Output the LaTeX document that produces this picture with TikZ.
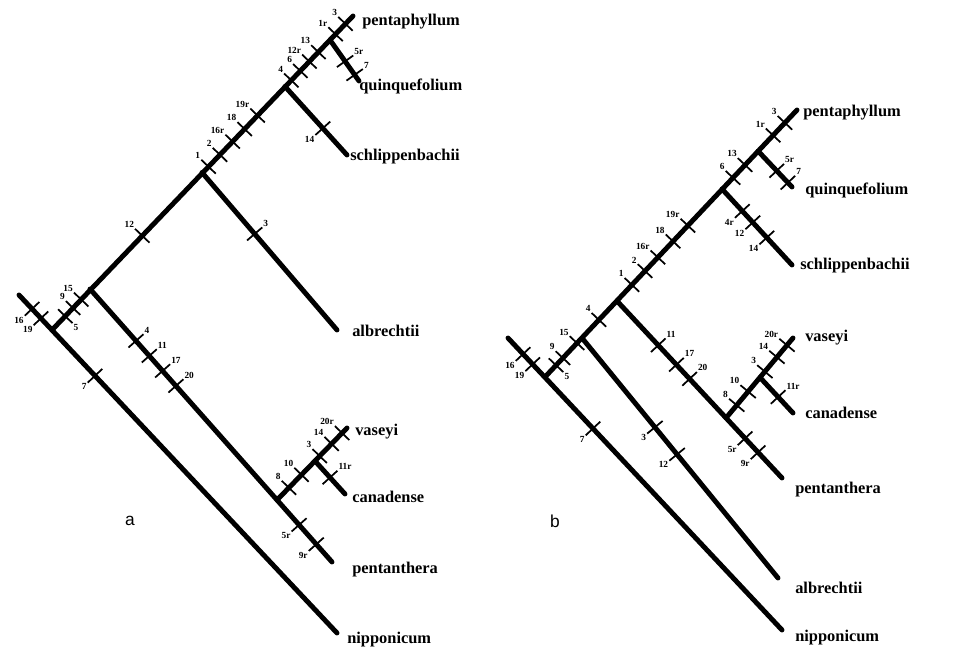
\documentclass[tikz,border=0pt]{standalone}
\usepackage{fontspec}
\setmainfont{Liberation Serif}
\newfontfamily\sansf{Liberation Sans}
\usetikzlibrary{calc}
\newcount\tkn
\newcommand\tk[6]{%
  \global\advance\tkn by 1
  \coordinate (tc\the\tkn) at ($(#1)!#3!(#2)$);
  \draw[tickline] ($(tc\the\tkn)!7.5pt!90:(#2)$) -- ($(tc\the\tkn)!7.5pt!-90:(#2)$);
  \node[tlab, anchor=#6] (tl\the\tkn) at ($(tc\the\tkn)!8pt!#5:(#2)$) {#4};
}
\begin{document}
\begin{tikzpicture}[x=0.75pt,y=-0.75pt,
  brl/.style={line width=3.7pt, line cap=round},
  tickline/.style={line width=1.3pt},
  tlab/.style={font=\fontsize{7}{7}\selectfont\bfseries, inner sep=0.3pt},
  leaf/.style={font=\fontsize{12.3}{13}\selectfont\bfseries, anchor=west, inner sep=0pt},
  panel/.style={font=\sansf\fontsize{13}{14}\selectfont, inner sep=0pt}]
\useasboundingbox (0,0) rectangle (964,655);

% ---------------- tree a ----------------
\coordinate (a0) at (19,295);
\coordinate (anip) at (337,633);
\coordinate (ar) at (52,330);
\coordinate (apt) at (353,16);
\coordinate (apn) at (90,289);
\coordinate (aal) at (202,172.5);
\coordinate (asc) at (285,86.5);
\coordinate (aqu) at (330,40);
\coordinate (aqe) at (359,81);
\coordinate (ase) at (347,155);
\coordinate (aae) at (337,330);
\coordinate (ape) at (332,562);
\coordinate (acv) at (277,500);
\coordinate (avt) at (347,428);
\coordinate (acn) at (315,461);
\coordinate (ace) at (345,494);

\draw[brl] (a0) -- (anip);
\draw[brl] (ar) -- (apt);
\draw[brl] (aqu) -- (aqe);
\draw[brl] (asc) -- (ase);
\draw[brl] (aal) -- (aae);
\draw[brl] (apn) -- (ape);
\draw[brl] (acv) -- (avt);
\draw[brl] (acn) -- (ace);

\tk{a0}{anip}{0.041}{16}{-90}{north east}
\tk{a0}{anip}{0.069}{19}{-90}{north east}
\tk{a0}{anip}{0.239}{7}{-90}{north east}
\tk{ar}{apt}{0.044}{5}{-90}{north west}
\tk{ar}{apt}{0.07}{9}{90}{south east}
\tk{ar}{apt}{0.097}{15}{90}{south east}
\tk{ar}{apt}{0.30}{12}{90}{south east}
\tk{ar}{apt}{0.52}{1}{90}{south east}
\tk{ar}{apt}{0.558}{2}{90}{south east}
\tk{ar}{apt}{0.60}{16r}{90}{south east}
\tk{ar}{apt}{0.64}{18}{90}{south east}
\tk{ar}{apt}{0.683}{19r}{90}{south east}
\tk{ar}{apt}{0.795}{4}{90}{south east}
\tk{ar}{apt}{0.825}{6}{90}{south east}
\tk{ar}{apt}{0.855}{12r}{90}{south east}
\tk{ar}{apt}{0.885}{13}{90}{south east}
\tk{ar}{apt}{0.942}{1r}{90}{south east}
\tk{ar}{apt}{0.975}{3}{90}{south east}
\tk{aqu}{aqe}{0.52}{5r}{90}{south west}
\tk{aqu}{aqe}{0.85}{7}{90}{south west}
\tk{asc}{ase}{0.61}{14}{-90}{north east}
\tk{aal}{aae}{0.39}{3}{90}{south west}
\tk{apn}{ape}{0.19}{4}{90}{south west}
\tk{apn}{ape}{0.245}{11}{90}{south west}
\tk{apn}{ape}{0.30}{17}{90}{south west}
\tk{apn}{ape}{0.355}{20}{90}{south west}
\tk{apn}{ape}{0.864}{5r}{-90}{north east}
\tk{apn}{ape}{0.935}{9r}{-90}{north east}
\tk{acv}{avt}{0.17}{8}{90}{south east}
\tk{acv}{avt}{0.35}{10}{90}{south east}
\tk{acv}{avt}{0.61}{3}{90}{south east}
\tk{acv}{avt}{0.78}{14}{90}{south east}
\tk{acv}{avt}{0.93}{20r}{90}{south east}
\tk{acn}{ace}{0.5}{11r}{90}{south west}

\node[leaf] (apenta) at (362,22) {pentaphyllum};
\node[leaf] (aquinq) at (359,86) {quinquefolium};
\node[leaf] (aschl) at (350,157) {schlippenbachii};
\node[leaf] (aalb) at (352,331) {albrechtii};
\node[leaf] (avas) at (355,432) {vaseyi};
\node[leaf] (acan) at (352,497) {canadense};
\node[leaf] (apen) at (352,570) {pentanthera};
\node[leaf] (anipl) at (347,640) {nipponicum};
\node[panel] (pa) at (130,521) {a};

% ---------------- tree b ----------------
\coordinate (b0) at (508,338);
\coordinate (bnip) at (782,630);
\coordinate (br) at (545,377);
\coordinate (bpt) at (797,110);
\coordinate (bal) at (582,338);
\coordinate (bpn) at (617,301);
\coordinate (bsc) at (722,189);
\coordinate (bqu) at (758,151);
\coordinate (bqe) at (792,187);
\coordinate (bse) at (792,265);
\coordinate (bae) at (778,578);
\coordinate (bpe) at (782,478);
\coordinate (bcv) at (726,418);
\coordinate (bvt) at (793,338);
\coordinate (bcn) at (760,377.5);
\coordinate (bce) at (793,413);

\draw[brl] (b0) -- (bnip);
\draw[brl] (br) -- (bpt);
\draw[brl] (bqu) -- (bqe);
\draw[brl] (bsc) -- (bse);
\draw[brl] (bal) -- (bae);
\draw[brl] (bpn) -- (bpe);
\draw[brl] (bcv) -- (bvt);
\draw[brl] (bcn) -- (bce);

\tk{b0}{bnip}{0.055}{16}{-90}{north east}
\tk{b0}{bnip}{0.09}{19}{-90}{north east}
\tk{b0}{bnip}{0.31}{7}{-90}{north east}
\tk{br}{bpt}{0.044}{5}{-90}{north west}
\tk{br}{bpt}{0.071}{9}{90}{south east}
\tk{br}{bpt}{0.127}{15}{90}{south east}
\tk{br}{bpt}{0.214}{4}{90}{south east}
\tk{br}{bpt}{0.345}{1}{90}{south east}
\tk{br}{bpt}{0.397}{2}{90}{south east}
\tk{br}{bpt}{0.448}{16r}{90}{south east}
\tk{br}{bpt}{0.508}{18}{90}{south east}
\tk{br}{bpt}{0.567}{19r}{90}{south east}
\tk{br}{bpt}{0.746}{6}{90}{south east}
\tk{br}{bpt}{0.794}{13}{90}{south east}
\tk{br}{bpt}{0.905}{1r}{90}{south east}
\tk{br}{bpt}{0.952}{3}{90}{south east}
\tk{bqu}{bqe}{0.55}{5r}{90}{south west}
\tk{bqu}{bqe}{0.88}{7}{90}{south west}
\tk{bsc}{bse}{0.29}{4r}{-90}{north east}
\tk{bsc}{bse}{0.44}{12}{-90}{north east}
\tk{bsc}{bse}{0.64}{14}{-90}{north east}
\tk{bal}{bae}{0.372}{3}{-90}{north east}
\tk{bal}{bae}{0.485}{12}{-90}{north east}
\tk{bpn}{bpe}{0.25}{11}{90}{south west}
\tk{bpn}{bpe}{0.36}{17}{90}{south west}
\tk{bpn}{bpe}{0.44}{20}{90}{south west}
\tk{bpn}{bpe}{0.776}{5r}{-90}{north east}
\tk{bpn}{bpe}{0.855}{9r}{-90}{north east}
\tk{bcv}{bvt}{0.16}{8}{90}{south east}
\tk{bcv}{bvt}{0.33}{10}{90}{south east}
\tk{bcv}{bvt}{0.58}{3}{90}{south east}
\tk{bcv}{bvt}{0.76}{14}{90}{south east}
\tk{bcv}{bvt}{0.91}{20r}{90}{south east}
\tk{bcn}{bce}{0.55}{11r}{90}{south west}

\node[leaf] (bpenta) at (803,113) {pentaphyllum};
\node[leaf] (bquinq) at (805,190) {quinquefolium};
\node[leaf] (bschl) at (800,266) {schlippenbachii};
\node[leaf] (bvas) at (805,338) {vaseyi};
\node[leaf] (bcan) at (805,413) {canadense};
\node[leaf] (bpen) at (795,490) {pentanthera};
\node[leaf] (balb) at (795,588) {albrechtii};
\node[leaf] (bnipl) at (795,638) {nipponicum};
\node[panel] (pb) at (555,521) {b};
\end{tikzpicture}
\end{document}
